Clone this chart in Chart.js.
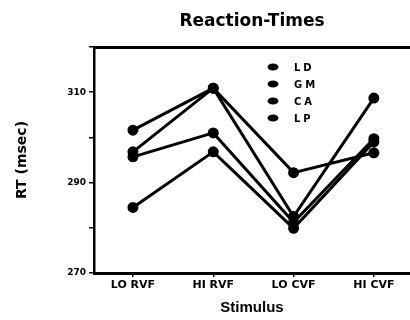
<!DOCTYPE html>
<html>
<head>
<meta charset="utf-8">
<script src="https://cdn.jsdelivr.net/npm/chart.js@4.4.1/dist/chart.umd.min.js"></script>
<style>
html, body { margin: 0; padding: 0; background: #fff; }
canvas { display: block; }
</style>
</head>
<body>
<canvas id="rtChart" width="410" height="320"></canvas>
<script>
var stimuli = ['LO RVF', 'HI RVF', 'LO CVF', 'HI CVF'];
var subjects = ['LD', 'GM', 'CA', 'LP'];
var rtLD = [301.6, 310.9, 292.2, 296.6];
var rtGM = [296.8, 310.9, 282.5, 308.7];
var rtCA = [295.7, 301.0, 281.2, 299.7];
var rtLP = [284.5, 296.8, 279.9, 299.0];
var yTickLabels = [270, 290, 310];
var chartTitle = 'Reaction-Times';

var series = [rtLD, rtGM, rtCA, rtLP];

// title over the plot box + the little legend inside it
var extras = {
    id: 'extras',
    afterDraw: function(chart) {
        var ctx = chart.ctx, area = chart.chartArea;
        ctx.save();
        ctx.fillStyle = '#000';
        ctx.font = 'bold 17px "DejaVu Sans"';
        ctx.textAlign = 'center';
        ctx.textBaseline = 'middle';
        ctx.fillText(chartTitle, (area.left + area.right) / 2, 22);
        ctx.font = 'bold 10px "DejaVu Sans"';
        ctx.textAlign = 'left';
        ctx.letterSpacing = '3px';
        chart.data.datasets.forEach(function(ds, i) {
            var y = 67 + i * 17;
            ctx.beginPath();
            ctx.ellipse(273, y, 5.5, 3.5, 0, 0, Math.PI * 2);
            ctx.fill();
            ctx.fillText(ds.label, 294, y + 1);
        });
        ctx.restore();
    }
};

new Chart(document.getElementById('rtChart').getContext('2d'), {
    type: 'line',
    data: {
        datasets: series.map(function(vals, k) {
            return {
                label: subjects[k],
                data: vals.map(function(v, i) { return { x: i, y: v }; }),
                borderColor: '#000',
                backgroundColor: '#000',
                pointBackgroundColor: '#000',
                pointBorderColor: '#000',
                borderWidth: 3,
                pointRadius: 4,
                tension: 0
            };
        })
    },
    options: {
        responsive: false,
        animation: false,
        devicePixelRatio: 1,
        layout: { autoPadding: false, padding: { top: 47, left: 0, right: 0, bottom: 0 } },
        plugins: { legend: { display: false }, tooltip: { enabled: false } },
        scales: {
            x: {
                type: 'linear',
                min: -0.485,
                max: 3.45,
                afterBuildTicks: function(s) {
                    s.ticks = stimuli.map(function(_, i) { return { value: i }; });
                },
                afterFit: function(s) {
                    s.height = 47;
                    s.paddingLeft = 0;
                    s.paddingRight = 0;
                },
                ticks: {
                    callback: function(v) { return stimuli[v]; },
                    font: { family: 'DejaVu Sans', weight: 'bold', size: 11 },
                    color: '#000',
                    padding: 2,
                    maxRotation: 0,
                    autoSkip: false
                },
                grid: { drawOnChartArea: false, tickLength: 4, color: '#000', lineWidth: 1.5 },
                border: { color: '#000', width: 3 },
                title: {
                    display: true,
                    text: 'Stimulus',
                    color: '#000',
                    font: { family: 'Liberation Sans', weight: 'bold', size: 15 },
                    padding: { top: 0, bottom: 3 }
                }
            },
            x2: {
                type: 'linear',
                position: 'top',
                afterFit: function(s) {
                    s.height = 0;
                    s.paddingLeft = 0;
                    s.paddingRight = 0;
                },
                ticks: { display: false },
                grid: { drawOnChartArea: false, drawTicks: false },
                border: { color: '#000', width: 3 }
            },
            y: {
                min: 270,
                max: 320,
                afterFit: function(s) {
                    s.width = 94;
                    s.paddingTop = 0;
                    s.paddingBottom = 0;
                },
                ticks: {
                    stepSize: 10,
                    callback: function(v) { return yTickLabels.indexOf(v) >= 0 ? String(v) : ''; },
                    font: { family: 'DejaVu Sans', weight: 'bold', size: 9 },
                    color: '#000',
                    padding: 3
                },
                grid: { drawOnChartArea: false, tickLength: 5, color: '#000', lineWidth: 1.5 },
                border: { color: '#000', width: 2.5 },
                title: {
                    display: true,
                    text: 'RT (msec)',
                    color: '#000',
                    font: { family: 'DejaVu Sans', weight: 'bold', size: 14 },
                    padding: { top: 14 }
                }
            }
        }
    },
    plugins: [extras]
});
</script>
</body>
</html>
